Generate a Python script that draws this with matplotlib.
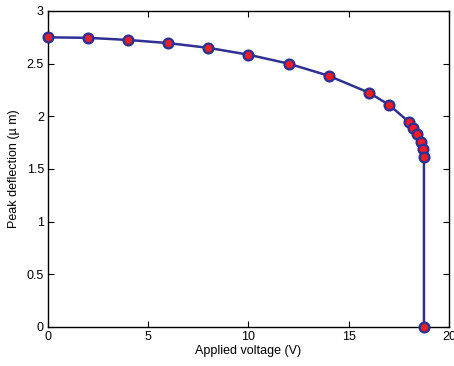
import matplotlib
matplotlib.use("Agg")
import matplotlib.pyplot as plt

voltage = [0, 2, 4, 6, 8, 10, 12, 14, 16, 17, 18, 18.2, 18.4, 18.6, 18.7, 18.75, 18.75]
deflection = [2.75, 2.745, 2.725, 2.695, 2.65, 2.585, 2.5, 2.385, 2.225, 2.11,
              1.947, 1.893, 1.836, 1.757, 1.685, 1.61, 0.0]
xticks = [0, 5, 10, 15, 20]
yticks = [0, 0.5, 1, 1.5, 2, 2.5, 3]

plt.rcParams['font.family'] = ['Liberation Sans', 'DejaVu Sans']
fig = plt.figure(figsize=(4.54, 3.66), dpi=100)
ax = fig.add_axes([0.1057, 0.1066, 0.8833, 0.8634])
ax.plot(voltage, deflection, '-o', color='#2e3192', lw=1.8,
        markersize=7, markerfacecolor='#ee1c25', markeredgecolor='#2e3192',
        markeredgewidth=1.7, clip_on=False, zorder=3)
ax.set_xlim(0, 20)
ax.set_ylim(0, 3)
ax.set_xticks(xticks)
ax.set_xticklabels([str(t) for t in xticks])
ax.set_yticks(yticks)
ax.set_yticklabels(['0', '0.5', '1', '1.5', '2', '2.5', '3'])
ax.tick_params(direction='in', top=True, right=True, labelsize=9, length=4, width=0.8, pad=3)
for s in ax.spines.values():
    s.set_linewidth(1.0)
ax.set_xlabel('Applied voltage (V)', fontsize=9, labelpad=1)
ax.set_ylabel('Peak deflection (\u00b5 m)', fontsize=9, labelpad=5)
fig.savefig('out.png', dpi=100)
